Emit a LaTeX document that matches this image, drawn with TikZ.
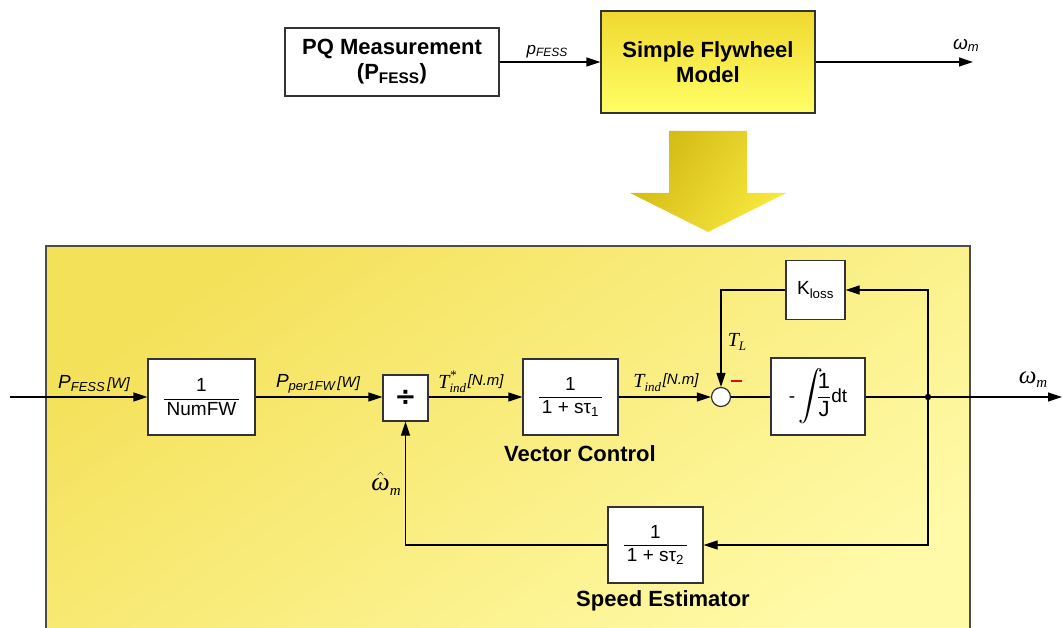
\documentclass[tikz,border=0pt]{standalone}
\usepackage{exscale}
\usepackage{fontspec}
\setmainfont{Liberation Sans}
\newfontfamily\dejavu{DejaVu Sans}
\newfontfamily\tnr{Liberation Serif}
\usetikzlibrary{arrows.meta}
\definecolor{bd}{HTML}{333333}
\definecolor{panelA}{HTML}{F4E15A}
\definecolor{panelB}{HTML}{FFFAA8}
\definecolor{fwA}{HTML}{F0D830}
\definecolor{fwB}{HTML}{FFFF66}
\definecolor{arrA}{HTML}{D2B814}
\definecolor{arrB}{HTML}{F7E83E}
\definecolor{minusred}{HTML}{D01010}
\newcommand\siglab[3]{{\itshape\fontsize{19}{22}\selectfont #1\fontsize{13}{15}\selectfont\raisebox{-3pt}{#2}\fontsize{15}{18}\selectfont\,#3}}
\newcommand\tsub[2]{{\tnr\itshape\fontsize{20}{24}\selectfont #1\fontsize{13}{15}\selectfont\raisebox{-4pt}{#2}}}
\tikzset{
  blk/.style={draw=bd, line width=1.2pt, fill=white, inner sep=0pt, align=center,
    font=\fontsize{19}{22}\selectfont},
  sig/.style={line width=1.2pt, -{Triangle[length=14pt,width=9pt]}},
  ln/.style={line width=1.2pt},
  title/.style={font=\bfseries\fontsize{22}{25}\selectfont, align=center, inner sep=0pt},
  lab/.style={inner sep=0pt},
}
\begin{document}
\begin{tikzpicture}[x=1pt,y=-1pt]
\useasboundingbox (0,0) rectangle (1062,628);
\clip (0,0) rectangle (1062,628);

% ---------- top ----------
\node[blk, minimum width=214pt, minimum height=68pt, font=\bfseries\fontsize{22}{25}\selectfont] (pq) at (392,62)
  {PQ Measurement\\(P\textsubscript{FESS})};
\node[draw=bd, line width=1.2pt, top color=fwA, bottom color=fwB, inner sep=0pt, align=center,
  minimum width=214pt, minimum height=102pt, font=\bfseries\fontsize{22}{25}\selectfont] (fw) at (708,62)
  {Simple Flywheel\\Model};
\coordinate (omtop) at (973,62);
\draw[sig] (pq) -- (fw);
\node[lab] (plab) at (547,52) {{\itshape\fontsize{17}{20}\selectfont p\fontsize{12}{14}\selectfont\raisebox{-2pt}{FESS}}};
\draw[sig] (fw) -- (omtop);
\node[lab] (omlab) at (966,45) {{\itshape\fontsize{19}{22}\selectfont ω\fontsize{13}{15}\selectfont\raisebox{-2pt}{m}}};

% ---------- big arrow ----------
\shade[top color=arrA, bottom color=arrB, shading angle=55]
  (669,131) -- (747,131) -- (747,193) -- (786,193) -- (708,232) -- (630,193) -- (669,193) -- cycle;

% ---------- panel ----------
\shade[top color=panelA, bottom color=panelB, shading angle=35] (46,246) rectangle (970,660);
\draw[draw=gray!60!black, line width=1.2pt] (46,660) -- (46,246) -- (970,246) -- (970,660);

% ---------- blocks ----------
\node[blk, minimum width=107pt, minimum height=76pt] (nfw) at (201.5,397)
  {$\displaystyle\frac{\mbox{1}}{\mbox{\,NumFW\,}}$};
\node[blk, minimum width=45pt, minimum height=46pt] (dv) at (405.5,398)
  {\dejavu\bfseries\fontsize{26}{28}\selectfont ÷};
\node[blk, minimum width=95pt, minimum height=76pt] (vc) at (570.5,397)
  {$\displaystyle\frac{\mbox{1}}{\mbox{\,1 + sτ\textsubscript{1}\,}}$};
\node[draw=bd, line width=1.2pt, fill=white, circle, minimum size=19pt, inner sep=0pt] (sum) at (721,397) {};
\node[blk, minimum width=94pt, minimum height=77pt] (int) at (818,396.5)
  {-\,\mbox{\fontsize{26}{28}\selectfont$\displaystyle\int$}\!\!{\fontsize{22}{24}\selectfont$\displaystyle\frac{\mbox{1}}{\mbox{J}}$}dt};
\node[blk, minimum width=59pt, minimum height=59pt] (kl) at (815.5,290)
  {K\textsubscript{loss}};
\node[blk, minimum width=95pt, minimum height=76pt] (se) at (655.5,545)
  {$\displaystyle\frac{\mbox{1}}{\mbox{\,1 + sτ\textsubscript{2}\,}}$};

\coordinate (in) at (10,397);
\coordinate (j) at (928,397);
\coordinate (out) at (1062,397);

% ---------- connectors ----------
\draw[sig] (in) -- (nfw);
\draw[sig] (nfw) -- (dv.west |- nfw);
\draw[sig] (dv.east |- nfw) -- (vc);
\draw[sig] (vc) -- (sum);
\draw[ln] (sum) -- (int.west |- sum);
\draw[ln] (int.east |- sum) -- (j);
\draw[sig] (j) -- (out);
\fill (j) circle (3.2pt);
\draw[sig] (j) |- (kl);
\draw[sig] (kl) -| (sum);
\draw[sig] (j) |- (se);
\draw[sig] (se) -| (dv);

% ---------- labels ----------
\node[lab] (l1) at (94,384) {\siglab{P}{FESS}{[W]}};
\node[lab] (l2) at (318,384) {\siglab{P}{per1FW}{[W]}};
\node[lab] (l3) at (471,382) {{\tnr\itshape\fontsize{20}{24}\selectfont T\fontsize{13}{15}\selectfont\rlap{\raisebox{9pt}{*}}\raisebox{-4pt}{ind}}\,{\itshape\fontsize{15}{18}\selectfont\raisebox{3pt}{[N.m]}}};
\node[lab] (l4) at (666,383) {\tsub{T}{ind}\,{\itshape\fontsize{15}{18}\selectfont\raisebox{3pt}{[N.m]}}};
\node[lab] (tl) at (737,342) {\tsub{T}{L}};
\node[lab, text=minusred] (mn) at (736,381) {\rule{11pt}{2.8pt}};
\node[lab] (omr) at (1033,380) {{\tnr\itshape\fontsize{25}{28}\selectfont ω\fontsize{15}{17}\selectfont\raisebox{-4pt}{m}}};
\node[lab] (omh) at (386,484) {{\tnr\itshape\fontsize{26}{29}\selectfont$\hat{\mbox{ω}}$\fontsize{15}{17}\selectfont\raisebox{-5pt}{m}}};
\node[title] (vct) at (580,454) {Vector Control};
\node[title] (set) at (663,601) {Speed Estimator};
\end{tikzpicture}
\end{document}
